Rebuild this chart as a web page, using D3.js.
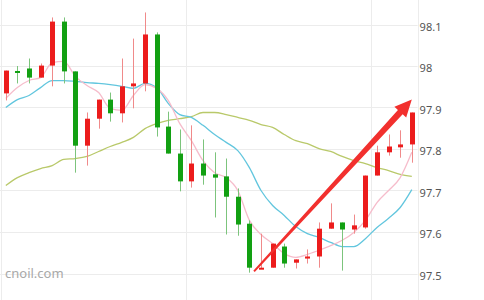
<!DOCTYPE html>
<html lang="en">
<head>
<meta charset="UTF-8"/>
<title>Candlestick with moving averages</title>
<script src="https://d3js.org/d3.v7.min.js"></script>
<style>
  body { margin: 0; background: #fff; }
  #chart svg { display: block; }
</style>
</head>
<body>
<div id="chart"></div>
<script>
    // size of the picture
    var w = 484;
    var h = 300;
    var plotRight = 417.6;

    // candles (red = up, green = down)
    var opens  = [97.934, 97.988, 97.994, 97.972, 98.001, 98.107, 97.987, 97.808, 97.873, 97.919,
                  97.886, 97.951, 97.958, 98.076, 97.854, 97.789, 97.722, 97.765, 97.739, 97.734,
                  97.685, 97.620, 97.512, 97.514, 97.565, 97.526, 97.536, 97.541, 97.608, 97.623,
                  97.606, 97.611, 97.736, 97.792, 97.804, 97.811];
    var highs  = [97.989, 98.000, 98.018, 98.006, 98.117, 98.117, 97.987, 97.888, 97.919, 97.936,
                  98.018, 98.066, 98.129, 98.081, 97.890, 97.847, 97.857, 97.823, 97.792, 97.777,
                  97.705, 97.628, 97.596, 97.572, 97.572, 97.534, 97.558, 97.623, 97.669, 97.623,
                  97.642, 97.736, 97.808, 97.835, 97.845, 97.888];
    var lows   = [97.917, 97.958, 97.958, 97.972, 97.951, 97.958, 97.743, 97.760, 97.849, 97.866,
                  97.864, 97.898, 97.939, 97.830, 97.789, 97.698, 97.707, 97.714, 97.635, 97.594,
                  97.591, 97.502, 97.512, 97.514, 97.514, 97.512, 97.524, 97.514, 97.608, 97.507,
                  97.596, 97.608, 97.736, 97.784, 97.779, 97.767];
    var closes = [97.989, 97.984, 97.972, 98.001, 98.107, 97.987, 97.808, 97.873, 97.919, 97.886,
                  97.951, 97.958, 98.076, 97.852, 97.789, 97.722, 97.765, 97.736, 97.731, 97.685,
                  97.618, 97.514, 97.514, 97.572, 97.524, 97.534, 97.541, 97.608, 97.623, 97.606,
                  97.616, 97.736, 97.792, 97.806, 97.811, 97.888];

    // moving average lines
    var maPink  = [97.922, 97.948, 97.965, 97.972, 98.008, 98.011, 97.975, 97.953, 97.936, 97.898,
                   97.893, 97.929, 97.955, 97.946, 97.917, 97.861, 97.820, 97.772, 97.743, 97.731,
                   97.700, 97.628, 97.594, 97.572, 97.548, 97.539, 97.546, 97.556, 97.567, 97.580,
                   97.599, 97.628, 97.671, 97.700, 97.731, 97.792];
    var maBlue  = [97.900, 97.919, 97.929, 97.948, 97.965, 97.965, 97.963, 97.960, 97.958, 97.955,
                   97.951, 97.946, 97.958, 97.948, 97.910, 97.883, 97.876, 97.857, 97.835, 97.816,
                   97.796, 97.755, 97.700, 97.664, 97.640, 97.613, 97.596, 97.587, 97.575, 97.565,
                   97.565, 97.584, 97.611, 97.633, 97.659, 97.702];
    var maOlive = [97.712, 97.731, 97.743, 97.753, 97.760, 97.775, 97.777, 97.782, 97.794, 97.806,
                   97.816, 97.828, 97.849, 97.861, 97.869, 97.873, 97.878, 97.888, 97.888, 97.883,
                   97.876, 97.869, 97.859, 97.852, 97.835, 97.820, 97.813, 97.801, 97.794, 97.782,
                   97.772, 97.765, 97.755, 97.748, 97.739, 97.734];

    var yTicks = [97.5, 97.6, 97.7, 97.8, 97.9, 98.0, 98.1];
    var xGrid = [15.5, 31.5];   // day separators between candles

    // arrow drawn over the chart: [index, price]
    var arrowFrom = [21.4, 97.505];
    var arrowTo   = [35.0, 97.919];

    var idx = d3.range(opens.length);

    var xScale = d3.scaleLinear()
            .domain([-0.5, opens.length - 0.5])
            .range([0, plotRight]);
    var yScale = d3.scaleLinear()
            .domain([97.5, 98.1])
            .range([273.5, 24.5]);

    var svg = d3.select("#chart")
                .append("svg")
                .attr("width", w)
                .attr("height", h);

    // grid lines
    svg.append("g")
        .selectAll("line")
        .data(yTicks)
        .enter()
        .append("line")
        .attr("x1", 0)
        .attr("x2", plotRight)
        .attr("y1", function(d){ return Math.round(yScale(d)) + 0.5; })
        .attr("y2", function(d){ return Math.round(yScale(d)) + 0.5; })
        .attr("stroke", "#ececec");

    svg.append("g")
        .selectAll("line")
        .data(xGrid)
        .enter()
        .append("line")
        .attr("x1", function(d){ return Math.round(xScale(d)) + 0.5; })
        .attr("x2", function(d){ return Math.round(xScale(d)) + 0.5; })
        .attr("y1", 0)
        .attr("y2", h)
        .attr("stroke", "#ececec");

    // plot borders left and right
    svg.append("line")
        .attr("x1", 1.5).attr("x2", 1.5).attr("y1", 0).attr("y2", h)
        .attr("stroke", "#ececec");
    svg.append("line")
        .attr("x1", Math.round(plotRight) + 0.5).attr("x2", Math.round(plotRight) + 0.5)
        .attr("y1", 0).attr("y2", h)
        .attr("stroke", "#ececec");

    // watermark
    svg.append("text")
        .attr("x", 5)
        .attr("y", 278)
        .text("cnoil.com")
        .attr("fill", "#a8a8a8")
        .attr("font-family", "'Noto Sans', sans-serif")
        .attr("font-size", "13px");

    // y axis labels on the right
    var yAxis = d3.axisRight(yScale)
        .tickValues(yTicks)
        .tickSize(0)
        .tickPadding(2)
        .tickFormat(function(d){ return d3.format("")(+d.toFixed(1)); });
    var gy = svg.append("g")
        .attr("transform", "translate(" + plotRight + ",2)")
        .call(yAxis);
    gy.select(".domain").remove();
    gy.selectAll("text")
        .attr("fill", "#555")
        .attr("font-family", "'Noto Sans', sans-serif")
        .attr("font-size", "11px");

    // moving averages
    function maLine(values){
        return d3.line()
            .x(function(d, i){ return xScale(i); })
            .y(function(d){ return yScale(d); })
            .curve(d3.curveMonotoneX)(values);
    }
    var maSeries = [[maOlive, "#b9c96a"], [maBlue, "#62c6de"], [maPink, "#f6bccb"]];
    svg.append("g")
        .selectAll("path")
        .data(maSeries)
        .enter()
        .append("path")
        .attr("d", function(d){ return maLine(d[0]); })
        .attr("fill", "none")
        .attr("stroke", function(d){ return d[1]; })
        .attr("stroke-width", 1.3);

    // candles
    function isUp(i){ return closes[i] >= opens[i]; }
    var candles = svg.append("g")
        .selectAll("g")
        .data(idx)
        .enter()
        .append("g");

    candles.append("line")
        .attr("x1", function(i){ return Math.round(xScale(i)) + 0.5; })
        .attr("x2", function(i){ return Math.round(xScale(i)) + 0.5; })
        .attr("y1", function(i){ return yScale(highs[i]); })
        .attr("y2", function(i){ return yScale(lows[i]); })
        .attr("stroke", function(i){ return isUp(i) ? "#f08a8a" : "#7cc47c"; })
        .attr("stroke-width", 1);

    candles.append("rect")
        .attr("x", function(i){ return Math.round(xScale(i)) - 2; })
        .attr("width", 5)
        .attr("y", function(i){ return yScale(Math.max(opens[i], closes[i])); })
        .attr("height", function(i){
            return Math.max(2, yScale(Math.min(opens[i], closes[i])) - yScale(Math.max(opens[i], closes[i])));
        })
        .attr("fill", function(i){ return isUp(i) ? "#ec1c1c" : "#12a012"; });

    // red arrow
    var x0 = xScale(arrowFrom[0]), y0 = yScale(arrowFrom[1]);
    var x1 = xScale(arrowTo[0]),   y1 = yScale(arrowTo[1]);
    var len = Math.hypot(x1 - x0, y1 - y0);
    var ux = (x1 - x0) / len, uy = (y1 - y0) / len;
    var nx = -uy, ny = ux;
    var headLen = 17, headHalf = 8;
    var bx = x1 - ux * headLen, by = y1 - uy * headLen;
    var arrowPts = [
        [x0 + nx * 1, y0 + ny * 1],
        [bx + nx * 3.2, by + ny * 3.2],
        [bx + nx * headHalf, by + ny * headHalf],
        [x1, y1],
        [bx - nx * headHalf, by - ny * headHalf],
        [bx - nx * 3.2, by - ny * 3.2],
        [x0 - nx * 1, y0 - ny * 1]
    ];
    svg.append("polygon")
        .attr("points", arrowPts.map(function(p){ return p.join(","); }).join(" "))
        .attr("fill", "#f2302e");
</script>
</body>
</html>
